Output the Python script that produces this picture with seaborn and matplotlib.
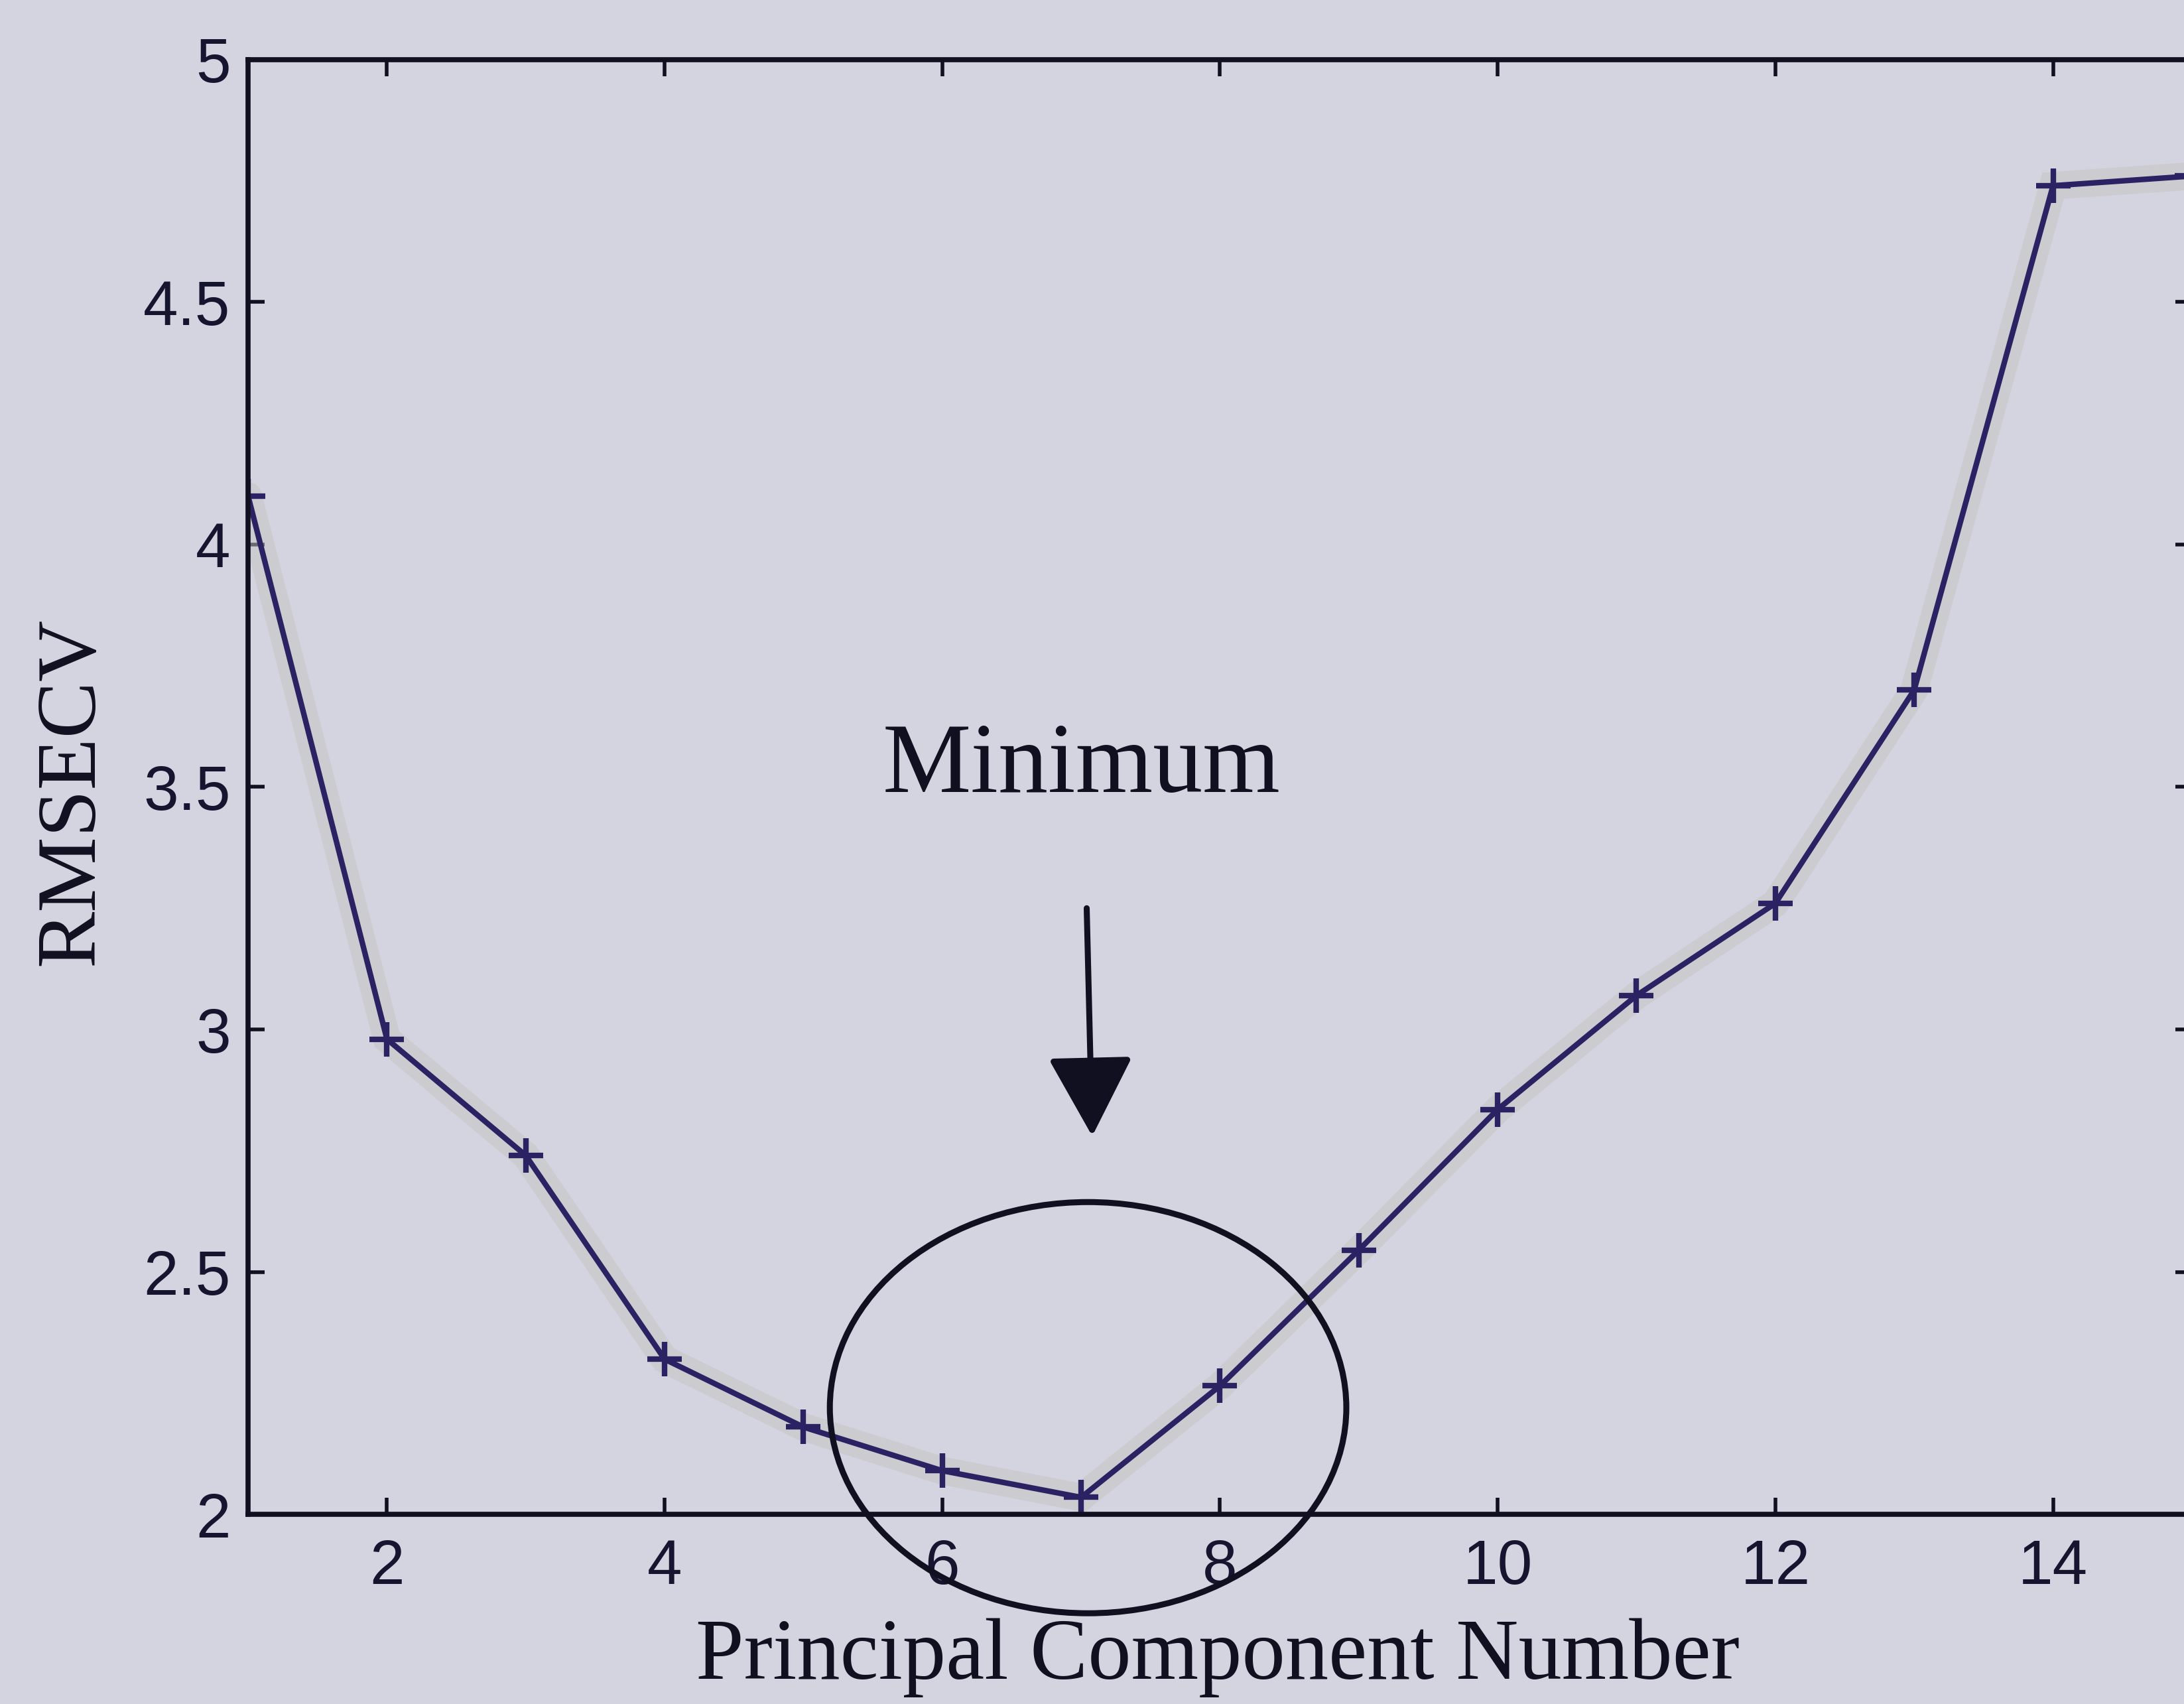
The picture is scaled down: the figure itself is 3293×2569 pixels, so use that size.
import matplotlib
matplotlib.use("Agg")
import matplotlib.pyplot as plt
import pandas as pd
import seaborn as sns
from matplotlib.patches import Ellipse

# RMSECV against the number of principal components kept in the model
components = [1, 2, 3, 4, 5, 6, 7, 8, 9, 10, 11, 12, 13, 14, 15]
rmsecv = [4.10, 2.98, 2.74, 2.32, 2.18, 2.09, 2.035, 2.265, 2.545, 2.835,
          3.07, 3.26, 3.70, 4.74, 4.76]

x_ticks = [2, 4, 6, 8, 10, 12, 14]
y_ticks = [2, 2.5, 3, 3.5, 4, 4.5, 5]
y_tick_labels = ["2", "2.5", "3", "3.5", "4", "4.5", "5"]

annotation_text = "Minimum"
x_label = "Principal Component Number"
y_label = "RMSECV"

df = pd.DataFrame({"component": components, "rmsecv": rmsecv})

bg = "#d4d3e0"
line_color = "#2a2262"
ink = "#101020"

sns.set_theme(style="ticks")
plt.rcParams["font.family"] = ["Liberation Sans", "DejaVu Sans"]

fig = plt.figure(figsize=(32.93, 25.69), dpi=100)
fig.patch.set_facecolor(bg)
ax = fig.add_axes([0.1136, 0.1113, 0.8900, 0.8537])
ax.set_facecolor(bg)

# faint scanning halo beneath the curve
sns.lineplot(data=df, x="component", y="rmsecv", ax=ax, color="#c3c5c2",
             lw=30, alpha=0.5, solid_joinstyle="miter", legend=False)
sns.lineplot(data=df, x="component", y="rmsecv", ax=ax, color=line_color,
             lw=6, marker="+", markersize=38, markeredgewidth=6,
             markeredgecolor=line_color, legend=False)

ax.set_xlim(1, 15)
ax.set_ylim(2, 5)
ax.set_xticks(x_ticks)
ax.set_yticks(y_ticks)
ax.set_yticklabels(y_tick_labels)

for side in ["top", "right", "bottom", "left"]:
    ax.spines[side].set_visible(True)
    ax.spines[side].set_linewidth(5.5)
    ax.spines[side].set_color(ink)

ax.tick_params(axis="both", direction="in", length=18, width=4,
               color=ink, labelsize=68, labelcolor="#151530",
               top=True, right=True)
ax.tick_params(axis="x", pad=26)
ax.tick_params(axis="y", pad=19)

serif = ["Liberation Serif", "DejaVu Serif"]
ax.set_xlabel(x_label, fontsize=94, family=serif, color=ink)
ax.set_ylabel(y_label, fontsize=92, family=serif, color=ink)
ax.xaxis.label.set_va("baseline")
ax.xaxis.set_label_coords(0.499, -0.113)
ax.yaxis.label.set_va("center")
ax.yaxis.set_label_coords(-0.0904, 0.497)

# highlight the minimum
ax.text(7.0, 3.54, annotation_text, fontsize=108, family=serif,
        color=ink, ha="center", va="center")
ax.annotate("", xy=(7.08, 2.78), xytext=(7.04, 3.25),
            arrowprops=dict(arrowstyle="-|>,head_length=0.75,head_width=0.4",
                            mutation_scale=100, lw=6.5, color=ink,
                            shrinkA=0, shrinkB=0))
ax.add_patch(Ellipse((7.05, 2.22), 3.72, 0.848, fill=False, lw=6.5,
                     edgecolor=ink, clip_on=False, zorder=5))

fig.savefig("out.png", dpi=100, facecolor=bg)
